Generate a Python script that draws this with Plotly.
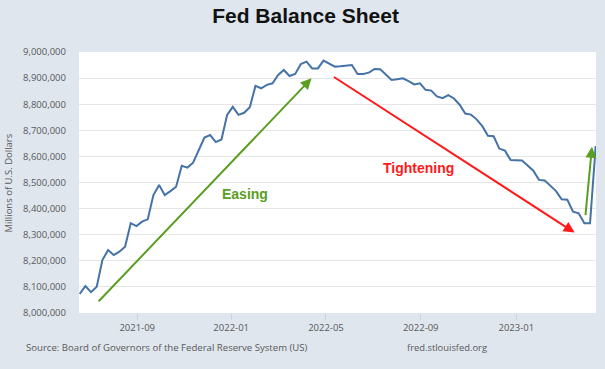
import plotly.graph_objects as go
import pandas as pd

# ---- data ----
start_date = "2021-06-16"          # first weekly observation (Wednesday)
balance_sheet = [
    8073000, 8103000, 8080000, 8101000, 8203000, 8241000, 8222000, 8235000, 8254000, 8344000,
    8333000, 8350000, 8359000, 8452000, 8490000, 8452000, 8467000, 8484000, 8564000, 8557000,
    8576000, 8624000, 8672000, 8682000, 8655000, 8665000, 8759000, 8790000, 8759000, 8767000,
    8788000, 8870000, 8861000, 8874000, 8880000, 8912000, 8931000, 8908000, 8916000, 8954000,
    8963000, 8937000, 8937000, 8967000, 8957000, 8944000, 8945000, 8948000, 8950000, 8916000,
    8916000, 8921000, 8935000, 8934000, 8912000, 8893000, 8896000, 8899000, 8888000, 8876000,
    8880000, 8855000, 8852000, 8830000, 8823000, 8835000, 8822000, 8798000, 8764000, 8760000,
    8742000, 8716000, 8679000, 8677000, 8630000, 8622000, 8586000, 8586000, 8584000, 8565000,
    8545000, 8510000, 8508000, 8488000, 8467000, 8436000, 8434000, 8388000, 8382000, 8344000,
    8344000, 8640000,
]
dates = pd.date_range(start_date, periods=len(balance_sheet), freq="7D")

tick_positions = ["2021-08-26", "2021-12-20", "2022-04-16", "2022-08-11", "2022-12-07"]
tick_labels = ["2021-09", "2022-01", "2022-05", "2022-09", "2023-01"]

y_ticks = list(range(8000000, 9000001, 100000))

BG = "#dfe6ee"
LINE = "#4572a7"
GREEN = "#5a9e22"
RED = "#ff1a1a"
TXT = "#595959"

fig = go.Figure()
fig.add_trace(go.Scatter(
    x=dates, y=balance_sheet, mode="lines",
    line=dict(color=LINE, width=2), hoverinfo="x+y", showlegend=False,
))

fig.update_layout(
    width=605, height=369,
    margin=dict(l=79, r=9, t=52, b=56),
    paper_bgcolor=BG, plot_bgcolor="white",
    title=dict(text="<b>Fed Balance Sheet</b>", x=0.505, xanchor="center",
               y=1 - 16 / 369, yanchor="middle", yref="container",
               font=dict(family="Liberation Sans, Arial, sans-serif", size=21, color="#111111")),
    font=dict(family="Open Sans, sans-serif", size=10, color=TXT),
)

fig.update_xaxes(
    type="date",
    range=["2021-06-15 03:00", "2023-03-15 09:00"],
    tickvals=tick_positions, ticktext=tick_labels,
    showgrid=False, zeroline=False, showline=False,
    ticks="outside", ticklen=6, tickcolor="#c8d3df", tickwidth=1,
    tickfont=dict(family="Open Sans, sans-serif", size=9.5, color=TXT),
)
fig.update_yaxes(
    range=[8000000, 9000000],
    tickvals=y_ticks, tickformat=",d",
    showgrid=True, gridcolor="#e6e6e6", gridwidth=1,
    zeroline=False, showline=False, ticks="", ticklabelstandoff=12,
    tickfont=dict(family="Open Sans, sans-serif", size=9.5, color=TXT),
)

def arrow(tail_x, tail_y, head_x, head_y, color):
    fig.add_annotation(
        x=head_x, y=head_y, ax=tail_x, ay=tail_y,
        xref="x", yref="y", axref="x", ayref="y",
        text="", showarrow=True, arrowhead=2, arrowsize=1.1,
        arrowwidth=2, arrowcolor=color, standoff=0, startstandoff=0,
    )

arrow("2021-07-07 17:00", 8039500, "2022-03-29 05:00", 8899000, GREEN)
arrow("2022-04-24 00:00", 8908000, "2023-02-17 00:00", 8308000, RED)
arrow("2023-03-02 05:00", 8369000, "2023-03-10 10:00", 8637000, GREEN)

fig.add_annotation(x="2022-01-06", y=8456000, xref="x", yref="y", text="<b>Easing</b>",
                   showarrow=False, font=dict(family="Liberation Sans, Arial, sans-serif", size=14, color=GREEN))
fig.add_annotation(x="2022-08-08 14:00", y=8556000, xref="x", yref="y", text="<b>Tightening</b>",
                   showarrow=False, font=dict(family="Liberation Sans, Arial, sans-serif", size=14, color=RED))

fig.add_annotation(x=-0.1354, y=0.5, xref="paper", yref="paper", text="Millions of U.S. Dollars",
                   textangle=-90, showarrow=False, xanchor="center", yanchor="middle",
                   font=dict(family="Open Sans, sans-serif", size=9.5, color=TXT))
fig.add_annotation(x=-0.1064, y=-0.134, xref="paper", yref="paper",
                   text="Source: Board of Governors of the Federal Reserve System (US)",
                   showarrow=False, xanchor="left", yanchor="middle",
                   font=dict(family="Open Sans, sans-serif", size=9.6, color=TXT))
fig.add_annotation(x=0.6306, y=-0.134, xref="paper", yref="paper", text="fred.stlouisfed.org",
                   showarrow=False, xanchor="left", yanchor="middle",
                   font=dict(family="Open Sans, sans-serif", size=9.4, color=TXT))

fig.write_html("out.html", config={"displayModeBar": False},
               post_script="document.body.style.margin='0';")
